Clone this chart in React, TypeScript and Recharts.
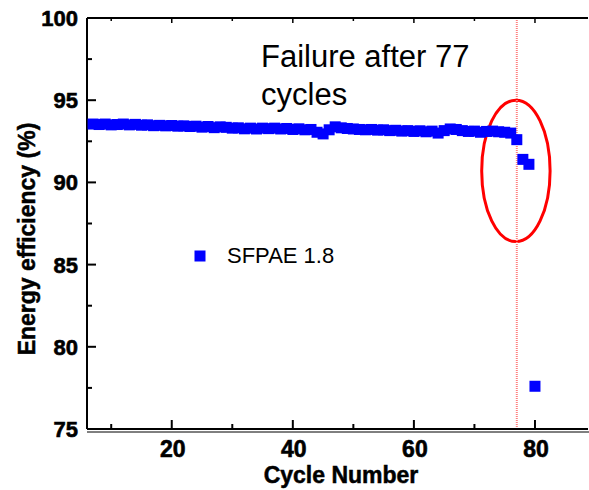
import React from 'react';
import { ScatterChart, Scatter, XAxis, YAxis, ReferenceLine, ReferenceArea } from 'recharts';

const cycles = [
  7, 8, 9, 10, 11, 12, 13, 14, 15, 16, 17, 18, 19, 20, 21, 22, 23, 24, 25, 26,
  27, 28, 29, 30, 31, 32, 33, 34, 35, 36, 37, 38, 39, 40, 41, 42, 43, 44, 45, 46,
  47, 48, 49, 50, 51, 52, 53, 54, 55, 56, 57, 58, 59, 60, 61, 62, 63, 64, 65, 66,
  67, 68, 69, 70, 71, 72, 73, 74, 75, 76, 77, 78, 79, 80,
];
const efficiency = [
  93.55, 93.52, 93.55, 93.5, 93.52, 93.55, 93.5, 93.53, 93.48, 93.5, 93.45, 93.47, 93.44, 93.46, 93.42, 93.44, 93.4, 93.42, 93.36, 93.4,
  93.33, 93.38, 93.35, 93.3, 93.32, 93.26, 93.3, 93.25, 93.3, 93.27, 93.3, 93.25, 93.28, 93.22, 93.26, 93.2, 93.22, 93.05, 92.95, 93.2,
  93.38, 93.32, 93.28, 93.25, 93.22, 93.2, 93.22, 93.18, 93.2, 93.15, 93.17, 93.12, 93.15, 93.1, 93.14, 93.08, 93.12, 93.0, 93.15, 93.25,
  93.22, 93.15, 93.1, 93.12, 93.05, 93.1, 93.12, 93.08, 93.05, 93.0, 92.6, 91.4, 91.1, 77.6,
];
const xTicks = [10, 20, 30, 40, 50, 60, 70, 80];
const yTicks = [75, 77.5, 80, 82.5, 85, 87.5, 90, 92.5, 95, 97.5, 100];
const failureCycle = 77;
const seriesName = 'SFPAE 1.8';

const data = cycles.map((c, i) => ({ x: c, y: efficiency[i] }));

const FONT = '"Liberation Sans", Arial, sans-serif';

const BottomTick = (props: any) => {
  const { x, y, payload } = props;
  const v = payload.value;
  const major = v % 20 === 0;
  return (
    <g>
      <line x1={x} x2={x} y1={y} y2={y - (major ? 9 : 5)} stroke="#000" strokeWidth={2} />
      {major && (
        <text x={x + 1} y={y + 28} textAnchor="middle" fontFamily={FONT} fontWeight="bold" fontSize={23} fill="#000" stroke="#000" strokeWidth={0.6}>
          {v}
        </text>
      )}
    </g>
  );
};

const TopTick = (props: any) => {
  const { x, y, payload } = props;
  const major = payload.value % 20 === 0;
  return <line x1={x} x2={x} y1={y} y2={y + (major ? 5 : 3)} stroke="#000" strokeWidth={1.5} />;
};

const LeftTick = (props: any) => {
  const { x, y, payload } = props;
  const v = payload.value;
  const major = v % 5 === 0;
  return (
    <g>
      <line x1={x} x2={x + (major ? 9 : 5)} y1={y} y2={y} stroke="#000" strokeWidth={2} />
      {major && (
        <text x={x - 9} y={y + 8} textAnchor="end" fontFamily={FONT} fontWeight="bold" fontSize={22} fill="#000" stroke="#000" strokeWidth={0.6}>
          {v}
        </text>
      )}
    </g>
  );
};

const SquareShape = (props: any) => {
  const { cx, cy } = props;
  return <rect x={cx - 5.5} y={cy - 5.5} width={11} height={11} fill="#0000ff" />;
};

const EllipseShape = (props: any) => {
  const { x, y, width, height } = props;
  return (
    <ellipse
      cx={x + width / 2}
      cy={y + height / 2}
      rx={width / 2}
      ry={height / 2}
      fill="none"
      stroke="#ff0000"
      strokeWidth={3}
    />
  );
};

export default function App() {
  return (
    <div style={{ position: 'absolute', left: 0, top: 0, width: 589, height: 490, background: '#fff' }}>
      <ScatterChart width={589} height={490} margin={{ top: 17, right: 1, bottom: 0, left: 0 }}>
        <XAxis
          xAxisId="top"
          orientation="top"
          type="number"
          dataKey="x"
          domain={[6, 88.76]}
          allowDataOverflow
          ticks={xTicks}
          interval={0}
          height={1}
          tickSize={0}
          tickMargin={0}
          tickLine={false}
          tick={<TopTick />}
          axisLine={{ stroke: '#000', strokeWidth: 2 }}
        />
        <XAxis
          type="number"
          dataKey="x"
          domain={[6, 88.76]}
          allowDataOverflow
          ticks={xTicks}
          interval={0}
          height={61}
          tickSize={0}
          tickMargin={0}
          tickLine={false}
          tick={<BottomTick />}
          axisLine={{ stroke: '#000', strokeWidth: 2 }}
        />
        <YAxis
          type="number"
          dataKey="y"
          domain={[75, 100]}
          allowDataOverflow
          ticks={yTicks}
          interval={0}
          width={87}
          tickSize={0}
          tickMargin={0}
          tickLine={false}
          tick={<LeftTick />}
          axisLine={{ stroke: '#000', strokeWidth: 2 }}
        />
        <ReferenceLine x={failureCycle} stroke="#ff8080" strokeWidth={2} strokeDasharray="1 1" />
        <ReferenceArea x1={71.2} x2={82.5} y1={86.4} y2={95.0} shape={<EllipseShape />} />
        <Scatter name={seriesName} data={data} shape={<SquareShape />} isAnimationActive={false} />
      </ScatterChart>
      <svg
        width={589}
        height={490}
        style={{ position: 'absolute', left: 0, top: 0, pointerEvents: 'none' }}
      >
        <line x1={87} x2={589} y1={432} y2={432} stroke="#000" strokeWidth={1} />
        <text transform="translate(35,239) rotate(-90)" textAnchor="middle" fontFamily={FONT} fontWeight="bold" fontSize={23} fill="#000" stroke="#000" strokeWidth={0.5}>
          Energy efficiency (%)
        </text>
        <text x={341} y={483} textAnchor="middle" fontFamily={FONT} fontWeight="bold" fontSize={23} fill="#000" stroke="#000" strokeWidth={0.5}>
          Cycle Number
        </text>
        <rect x={194.5} y={250.5} width={11} height={11} fill="#0000ff" />
        <text x={227} y={263} fontFamily={FONT} fontSize={22} fill="#000">
          {seriesName}
        </text>
        <text x={261} y={67} fontFamily={FONT} fontSize={31} fill="#000">
          Failure after 77
        </text>
        <text x={261} y={105} fontFamily={FONT} fontSize={31} fill="#000">
          cycles
        </text>
      </svg>
    </div>
  );
}
